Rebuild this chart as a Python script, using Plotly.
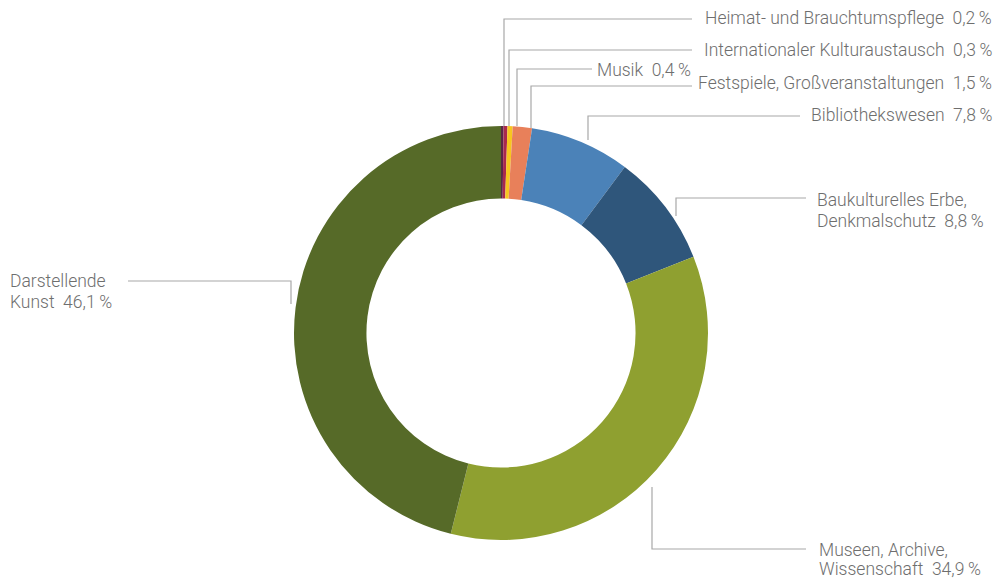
import plotly.graph_objects as go

# ---- data ----
categories = [
    "Heimat- und Brauchtumspflege",
    "Internationaler Kulturaustausch",
    "Musik",
    "Festspiele, Großveranstaltungen",
    "Bibliothekswesen",
    "Baukulturelles Erbe, Denkmalschutz",
    "Museen, Archive, Wissenschaft",
    "Darstellende Kunst",
]
values = [0.2, 0.3, 0.4, 1.5, 7.8, 8.8, 34.9, 46.1]
value_labels = ["0,2", "0,3", "0,4", "1,5", "7,8", "8,8", "34,9", "46,1"]
colors = ["#5a2747", "#a8294f", "#f7c61f", "#e8805a", "#4b82b8",
          "#2f567b", "#8fa030", "#566a28"]

W, H = 994, 580
CX, CY, R = 501, 333, 207

fig = go.Figure()
fig.add_trace(go.Pie(
    labels=categories, values=values, sort=False, direction="clockwise",
    rotation=0, hole=0.65, marker=dict(colors=colors, line=dict(width=0)),
    textinfo="none", hoverinfo="label+percent", showlegend=False,
    domain=dict(x=[(CX - R) / W, (CX + R) / W],
                y=[(H - CY - R) / H, (H - CY + R) / H]),
))

def px(x):
    return x / W

def py(y):
    return 1 - y / H

NB = "\u00a0"
TH = "\u2009"
def val(i):
    return f"{value_labels[i]}{TH}%"

line_color = "#a8a8a8"
shapes = []
def path(points):
    d = "M " + " L ".join(f"{px(x)},{py(y)}" for x, y in points)
    shapes.append(dict(type="path", path=d, xref="paper", yref="paper",
                       line=dict(color=line_color, width=1.2)))

# leader lines (decoration)
path([(504, 126), (504, 19), (692, 19)])
path([(509, 126), (509, 50), (692, 50)])
path([(517, 126), (517, 69), (592, 69)])
path([(531, 128), (531, 86), (692, 86)])
path([(588, 140), (588, 116), (800, 116)])
path([(676, 216), (676, 198), (806, 198)])
path([(128, 281), (291, 281), (291, 304)])
path([(652, 487), (652, 549), (806, 549)])

font = dict(family="Roboto", size=17.5, color="#6e6e6e", weight=300)
annotations = []
def ann(x, y, text, xanchor):
    annotations.append(dict(x=px(x), y=py(y), xref="paper", yref="paper",
                            text=text, showarrow=False, xanchor=xanchor,
                            yanchor="middle", align="left", font=font,
                            borderpad=0))

ann(993, 18, categories[0] + NB + NB + val(0), "right")
ann(993, 50, categories[1] + NB + NB + val(1), "right")
ann(596, 70, categories[2] + NB + NB + val(2), "left")
ann(993, 83, categories[3] + NB + NB + val(3), "right")
ann(993, 115, categories[4] + NB + NB + val(4), "right")
ann(816, 200, "Baukulturelles Erbe,", "left")
ann(816, 221, "Denkmalschutz" + NB + NB + val(5), "left")
ann(9, 281, "Darstellende", "left")
ann(9, 302, "Kunst" + NB + NB + val(7), "left")
ann(818, 550, "Museen, Archive,", "left")
ann(818, 569, "Wissenschaft" + NB + NB + val(6), "left")

fig.update_layout(
    width=W, height=H, margin=dict(l=0, r=0, t=0, b=0),
    paper_bgcolor="white", plot_bgcolor="white",
    shapes=shapes, annotations=annotations,
)
fig.write_html("out.html", config={"displayModeBar": False},
               post_script="document.body.style.margin='0px';document.body.style.padding='0px';")
